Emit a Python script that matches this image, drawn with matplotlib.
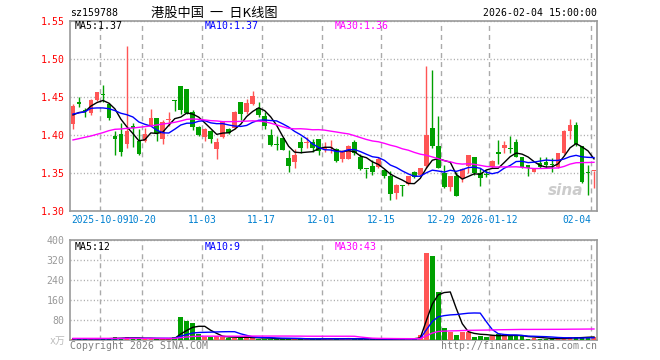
import numpy as np
import matplotlib.pyplot as plt
import matplotlib as mpl

mpl.rcParams['font.family'] = ['DejaVu Sans Mono', 'Noto Sans CJK SC']

# 日K数据 (2025-09-24 .. 2026-02-04), 读自图片
opens = [1.4145, 1.4443, 1.4333, 1.4290, 1.4465, 1.4535, 1.4412, 1.3996, 1.4018, 1.3882,
         1.4127, 1.3930, 1.3925, 1.4132, 1.4224, 1.3956, 1.4202, 1.4456, 1.4653, 1.4610,
         1.4307, 1.4105, 1.3982, 1.4057, 1.3820, 1.3982, 1.4083, 1.4092, 1.4443, 1.4303,
         1.4412, 1.4355, 1.4254, 1.4004, 1.3873, 1.3969, 1.3706, 1.3653, 1.3912, 1.3900,
         1.3908, 1.3956, 1.3825, 1.3838, 1.3820, 1.3689, 1.3689, 1.3917, 1.3719, 1.3561,
         1.3600, 1.3579, 1.3544, 1.3469, 1.3237, 1.3333, 1.3360, 1.3518, 1.3478, 1.3596,
         1.4092, 1.3860, 1.3509, 1.3325, 1.3469, 1.3443, 1.3601, 1.3715, 1.3500, 1.3487,
         1.3579, 1.3785, 1.3829, 1.3830, 1.3908, 1.3719, 1.3610, 1.3522, 1.3640, 1.3653,
         1.3610, 1.3588, 1.3772, 1.4061, 1.4136, 1.3864, 1.3502, 1.3530]
highs = [1.4408, 1.4500, 1.4364, 1.4474, 1.4575, 1.4662, 1.4430, 1.4057, 1.4158, 1.5175,
         1.4167, 1.4080, 1.4092, 1.4342, 1.4224, 1.4202, 1.4311, 1.4465, 1.4653, 1.4610,
         1.4329, 1.4123, 1.4092, 1.4075, 1.3960, 1.4189, 1.4092, 1.4324, 1.4443, 1.4474,
         1.4588, 1.4443, 1.4311, 1.4083, 1.3996, 1.3969, 1.3803, 1.3816, 1.3982, 1.3982,
         1.3952, 1.3956, 1.3912, 1.3939, 1.3838, 1.3807, 1.3873, 1.3939, 1.3754, 1.3561,
         1.3679, 1.3710, 1.3557, 1.3535, 1.3355, 1.3346, 1.3469, 1.3535, 1.3575, 1.4908,
         1.4860, 1.4254, 1.3610, 1.3465, 1.3513, 1.3575, 1.3746, 1.3715, 1.3566, 1.3539,
         1.3675, 1.3934, 1.3925, 1.3991, 1.3952, 1.3719, 1.3610, 1.3575, 1.3719, 1.3719,
         1.3697, 1.3763, 1.4070, 1.4215, 1.4180, 1.3864, 1.3614, 1.3535]
lows = [1.4080, 1.4377, 1.4246, 1.4268, 1.4456, 1.4443, 1.4200, 1.3741, 1.3728, 1.3829,
        1.3850, 1.3737, 1.3917, 1.4127, 1.3930, 1.3890, 1.4127, 1.4320, 1.4280, 1.4280,
        1.4066, 1.3991, 1.3925, 1.3899, 1.3689, 1.3969, 1.4018, 1.4080, 1.4202, 1.4281,
        1.4395, 1.4246, 1.4083, 1.3864, 1.3811, 1.3803, 1.3513, 1.3566, 1.3763, 1.3829,
        1.3785, 1.3746, 1.3776, 1.3772, 1.3645, 1.3645, 1.3684, 1.3741, 1.3548, 1.3439,
        1.3482, 1.3566, 1.3439, 1.3149, 1.3162, 1.3206, 1.3342, 1.3439, 1.3469, 1.3575,
        1.3838, 1.3566, 1.3303, 1.3272, 1.3202, 1.3390, 1.3500, 1.3478, 1.3338, 1.3447,
        1.3566, 1.3623, 1.3772, 1.3772, 1.3710, 1.3566, 1.3461, 1.3513, 1.3566, 1.3566,
        1.3522, 1.3575, 1.3750, 1.3952, 1.3864, 1.3368, 1.3219, 1.3310]
closes = [1.4390, 1.4412, 1.4320, 1.4465, 1.4566, 1.4530, 1.4232, 1.3947, 1.3785, 1.4061,
          1.4092, 1.3754, 1.4018, 1.4232, 1.4026, 1.4180, 1.4206, 1.4452, 1.4333, 1.4298,
          1.4105, 1.4004, 1.4083, 1.3952, 1.3917, 1.4189, 1.4026, 1.4311, 1.4281, 1.4430,
          1.4518, 1.4268, 1.4127, 1.3877, 1.3868, 1.3807, 1.3601, 1.3741, 1.3838, 1.3904,
          1.3838, 1.3798, 1.3833, 1.3842, 1.3667, 1.3785, 1.3860, 1.3763, 1.3561, 1.3557,
          1.3513, 1.3689, 1.3465, 1.3224, 1.3346, 1.3329, 1.3469, 1.3452, 1.3575, 1.4004,
          1.3860, 1.3575, 1.3325, 1.3465, 1.3202, 1.3553, 1.3746, 1.3500, 1.3434, 1.3482,
          1.3662, 1.3754, 1.3873, 1.3825, 1.3719, 1.3588, 1.3566, 1.3566, 1.3579, 1.3610,
          1.3605, 1.3763, 1.4061, 1.4136, 1.3889, 1.3390, 1.3500, 1.3533]
# 成交量 (万)
volumes = [5, 5, 5, 5, 5, 5, 6, 12, 6, 12,
           6, 6, 5, 5, 6, 5, 5, 12, 92, 77,
           68, 25, 12, 12, 15, 12, 9, 9, 9, 15,
           7, 5, 5, 6, 4, 5, 6, 5, 4, 3,
           4, 5, 6, 6, 4, 4, 7, 4, 4, 3,
           3, 3, 3, 4, 6, 6, 6, 4, 21, 350,
           338, 192, 48, 33, 20, 33, 33, 13, 16, 13,
           20, 24, 16, 16, 16, 16, 5, 8, 6, 6,
           6, 6, 6, 14, 11, 11, 13, 11]

# 窗口之前的均线值 (无法由可见数据计算, 读自图片)
ma5_head = [1.4268, 1.4300, 1.4310, 1.4385]
ma10_head = [1.4280, 1.4295, 1.4310, 1.4355, 1.4360, 1.4360, 1.4350, 1.4325, 1.4290]
ma30_head = [1.3939, 1.3956, 1.3974, 1.3991, 1.4013, 1.4035, 1.4061, 1.4079, 1.4083, 1.4092,
             1.4096, 1.4105, 1.4114, 1.4123, 1.4136, 1.4149, 1.4158, 1.4171, 1.4189, 1.4210,
             1.4215, 1.4210, 1.4202, 1.4193, 1.4189, 1.4180, 1.4180, 1.4180, 1.4184]
vma5_head = [5, 5, 5, 5]
vma10_head = [5, 5, 5, 5, 5, 5, 5, 5, 6]
vma30_head = [6.5] * 18 + [9.5, 12, 14.2, 15, 15.3, 15.3, 15.3, 15.3, 15.3, 15.3, 15.3]

tick_idx = [5, 12, 22, 32, 42, 52, 62, 70, 87]
tick_labels = ['2025-10-09', '10-20', '11-03', '11-17', '12-01', '12-15',
               '12-29', '2026-01-12', '02-04']

RED = '#ff5555'
GREEN = '#00a000'
GRID = '#aaaaaa'
FRAME = '#999999'


def moving_avg(vals, n, head):
    vals = np.asarray(vals, float)
    tail = np.convolve(vals, np.ones(n) / n, mode='valid')
    return np.concatenate([head, tail])


o = np.array(opens)
h = np.array(highs)
l = np.array(lows)
c = np.array(closes)
v = np.array(volumes, float)
n = len(c)
x = np.arange(n) + 0.5
colors = np.where(c >= o, RED, GREEN)

W, H = 660, 360
fig = plt.figure(figsize=(W / 100, H / 100), dpi=100)


def px_axes(x0, y0, x1, y1):
    return fig.add_axes([x0 / W, 1 - y1 / H, (x1 - x0) / W, (y1 - y0) / H])


def style(ax):
    for s in ax.spines.values():
        s.set_color(FRAME)
        s.set_linewidth(1.2)
    ax.tick_params(length=0)
    ax.set_xlim(0, n)
    ax.set_xticks(tick_idx)
    ax.xaxis.grid(True, color=GRID, linestyle=(0, (3.6, 2.9)), lw=1)
    ax.yaxis.grid(True, color=GRID, linestyle=(0, (0.8, 1.6)), lw=1)
    ax.set_axisbelow(True)


# 价格 K 线
ax = px_axes(70, 21.3, 597, 211.3)
style(ax)
ax.set_ylim(1.30, 1.55)
yt = [1.30, 1.35, 1.40, 1.45, 1.50, 1.55]
ax.set_yticks(yt)
ax.set_yticklabels(['%.2f' % t for t in yt], color='red', fontsize=7.1)
ax.tick_params(axis='y', pad=4)
ax.set_xticklabels(tick_labels, color='#0080d0', fontsize=6.9)
ax.tick_params(axis='x', pad=3)
xl = ax.get_xticklabels()
xl[-1].set_horizontalalignment('right')

ax.vlines(x, l, h, colors=colors, lw=1, zorder=2)
ax.bar(x, np.maximum(np.abs(c - o), 0.0012), bottom=np.minimum(o, c),
       width=0.78, color=colors, zorder=3)
ax.plot(x, moving_avg(c, 5, ma5_head), color='black', lw=1, zorder=4)
ax.plot(x, moving_avg(c, 10, ma10_head), color='#0000ff', lw=1, zorder=4)
ax.plot(x, moving_avg(c, 30, ma30_head), color='#ff00ff', lw=1, zorder=4)
ax.text(0.975, 0.07, 'sina', transform=ax.transAxes, ha='right', va='bottom',
        fontsize=11, color='#cccccc', fontweight='bold', style='italic',
        family='DejaVu Sans')

# 成交量
axv = px_axes(70, 240, 597, 340)
style(axv)
axv.set_ylim(0, 400)
vt = [0, 80, 160, 240, 320, 400]
axv.set_yticks(vt)
axv.set_yticklabels([''] + [str(t) for t in vt[1:]], color=FRAME, fontsize=7.1)
axv.tick_params(axis='y', pad=4)
axv.set_xticklabels([])
axv.bar(x, v, width=0.78, color=colors, zorder=3)
axv.plot(x, moving_avg(v, 5, vma5_head), color='black', lw=1, zorder=4)
axv.plot(x, moving_avg(v, 10, vma10_head), color='#0000ff', lw=1, zorder=4)
axv.plot(x, moving_avg(v, 30, vma30_head), color='#ff00ff', lw=1, zorder=4)


def ftext(px, py, s, **kw):
    fig.text(px / W, 1 - py / H, s, va='center', **kw)


ftext(70, 13, 'sz159788', fontsize=7.1, color='black')
ftext(214, 13, '港股中国  一  日K线图', fontsize=9.5, color='black', ha='center',
      family=['Noto Sans CJK SC', 'DejaVu Sans'])
ftext(597, 13, '2026-02-04 15:00:00', fontsize=7.1, color='black', ha='right')

ftext(75, 26, 'MA5:1.37', fontsize=7.1, color='black')
ftext(205, 26, 'MA10:1.37', fontsize=7.1, color='#0000ff')
ftext(335, 26, 'MA30:1.36', fontsize=7.1, color='#ff00ff')

ftext(75, 247, 'MA5:12', fontsize=7.1, color='black')
ftext(205, 247, 'MA10:9', fontsize=7.1, color='#0000ff')
ftext(335, 247, 'MA30:43', fontsize=7.1, color='#ff00ff')

ftext(66, 341, 'x万', fontsize=7.1, color='#bbbbbb', ha='right')
ftext(70, 346, 'Copyright 2026 SINA.COM', fontsize=7.1, color='#808080')
ftext(597, 346, 'http://finance.sina.com.cn', fontsize=7.1, color='#808080', ha='right')

fig.savefig('out.png', dpi=100)
